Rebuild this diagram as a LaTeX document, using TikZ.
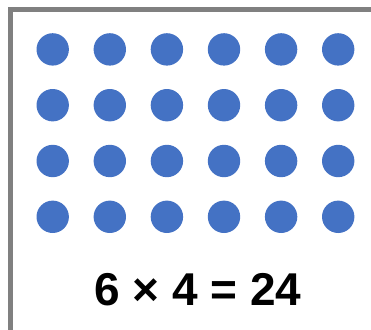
\documentclass[tikz,border=0pt]{standalone}
\usepackage{fontspec}
\setmainfont{Liberation Sans}
\definecolor{dotblue}{HTML}{4472C4}
\definecolor{framegray}{HTML}{808080}
\tikzset{
  dot/.style={circle, fill=dotblue, draw=none, minimum size=32.4pt, inner sep=0pt},
  frameline/.style={draw=framegray, line width=4.8pt, line join=miter},
  eqtext/.style={font=\fontsize{46pt}{50pt}\selectfont\bfseries, inner sep=0pt, anchor=base}
}
\begin{document}
\begin{tikzpicture}[x=1pt,y=1pt]
\useasboundingbox (0,0) rectangle (371,-329);
\coordinate (fb) at (10.4,-331);
\coordinate (fc) at (10.4,-9.5);
\coordinate (fr) at (373,-9.5);
\draw[frameline] (fb) -- (fc) -- (fr);
\foreach \c in {0,...,5}{
  \foreach \r in {0,...,3}{
    \node[dot] (d\c\r) at ({52.7+57.1*\c},{-(49.4+55.8*\r)}) {};
  }
}
\node[eqtext] (eq) at (198,-305) {6 × 4 = 24};
\end{tikzpicture}
\end{document}
